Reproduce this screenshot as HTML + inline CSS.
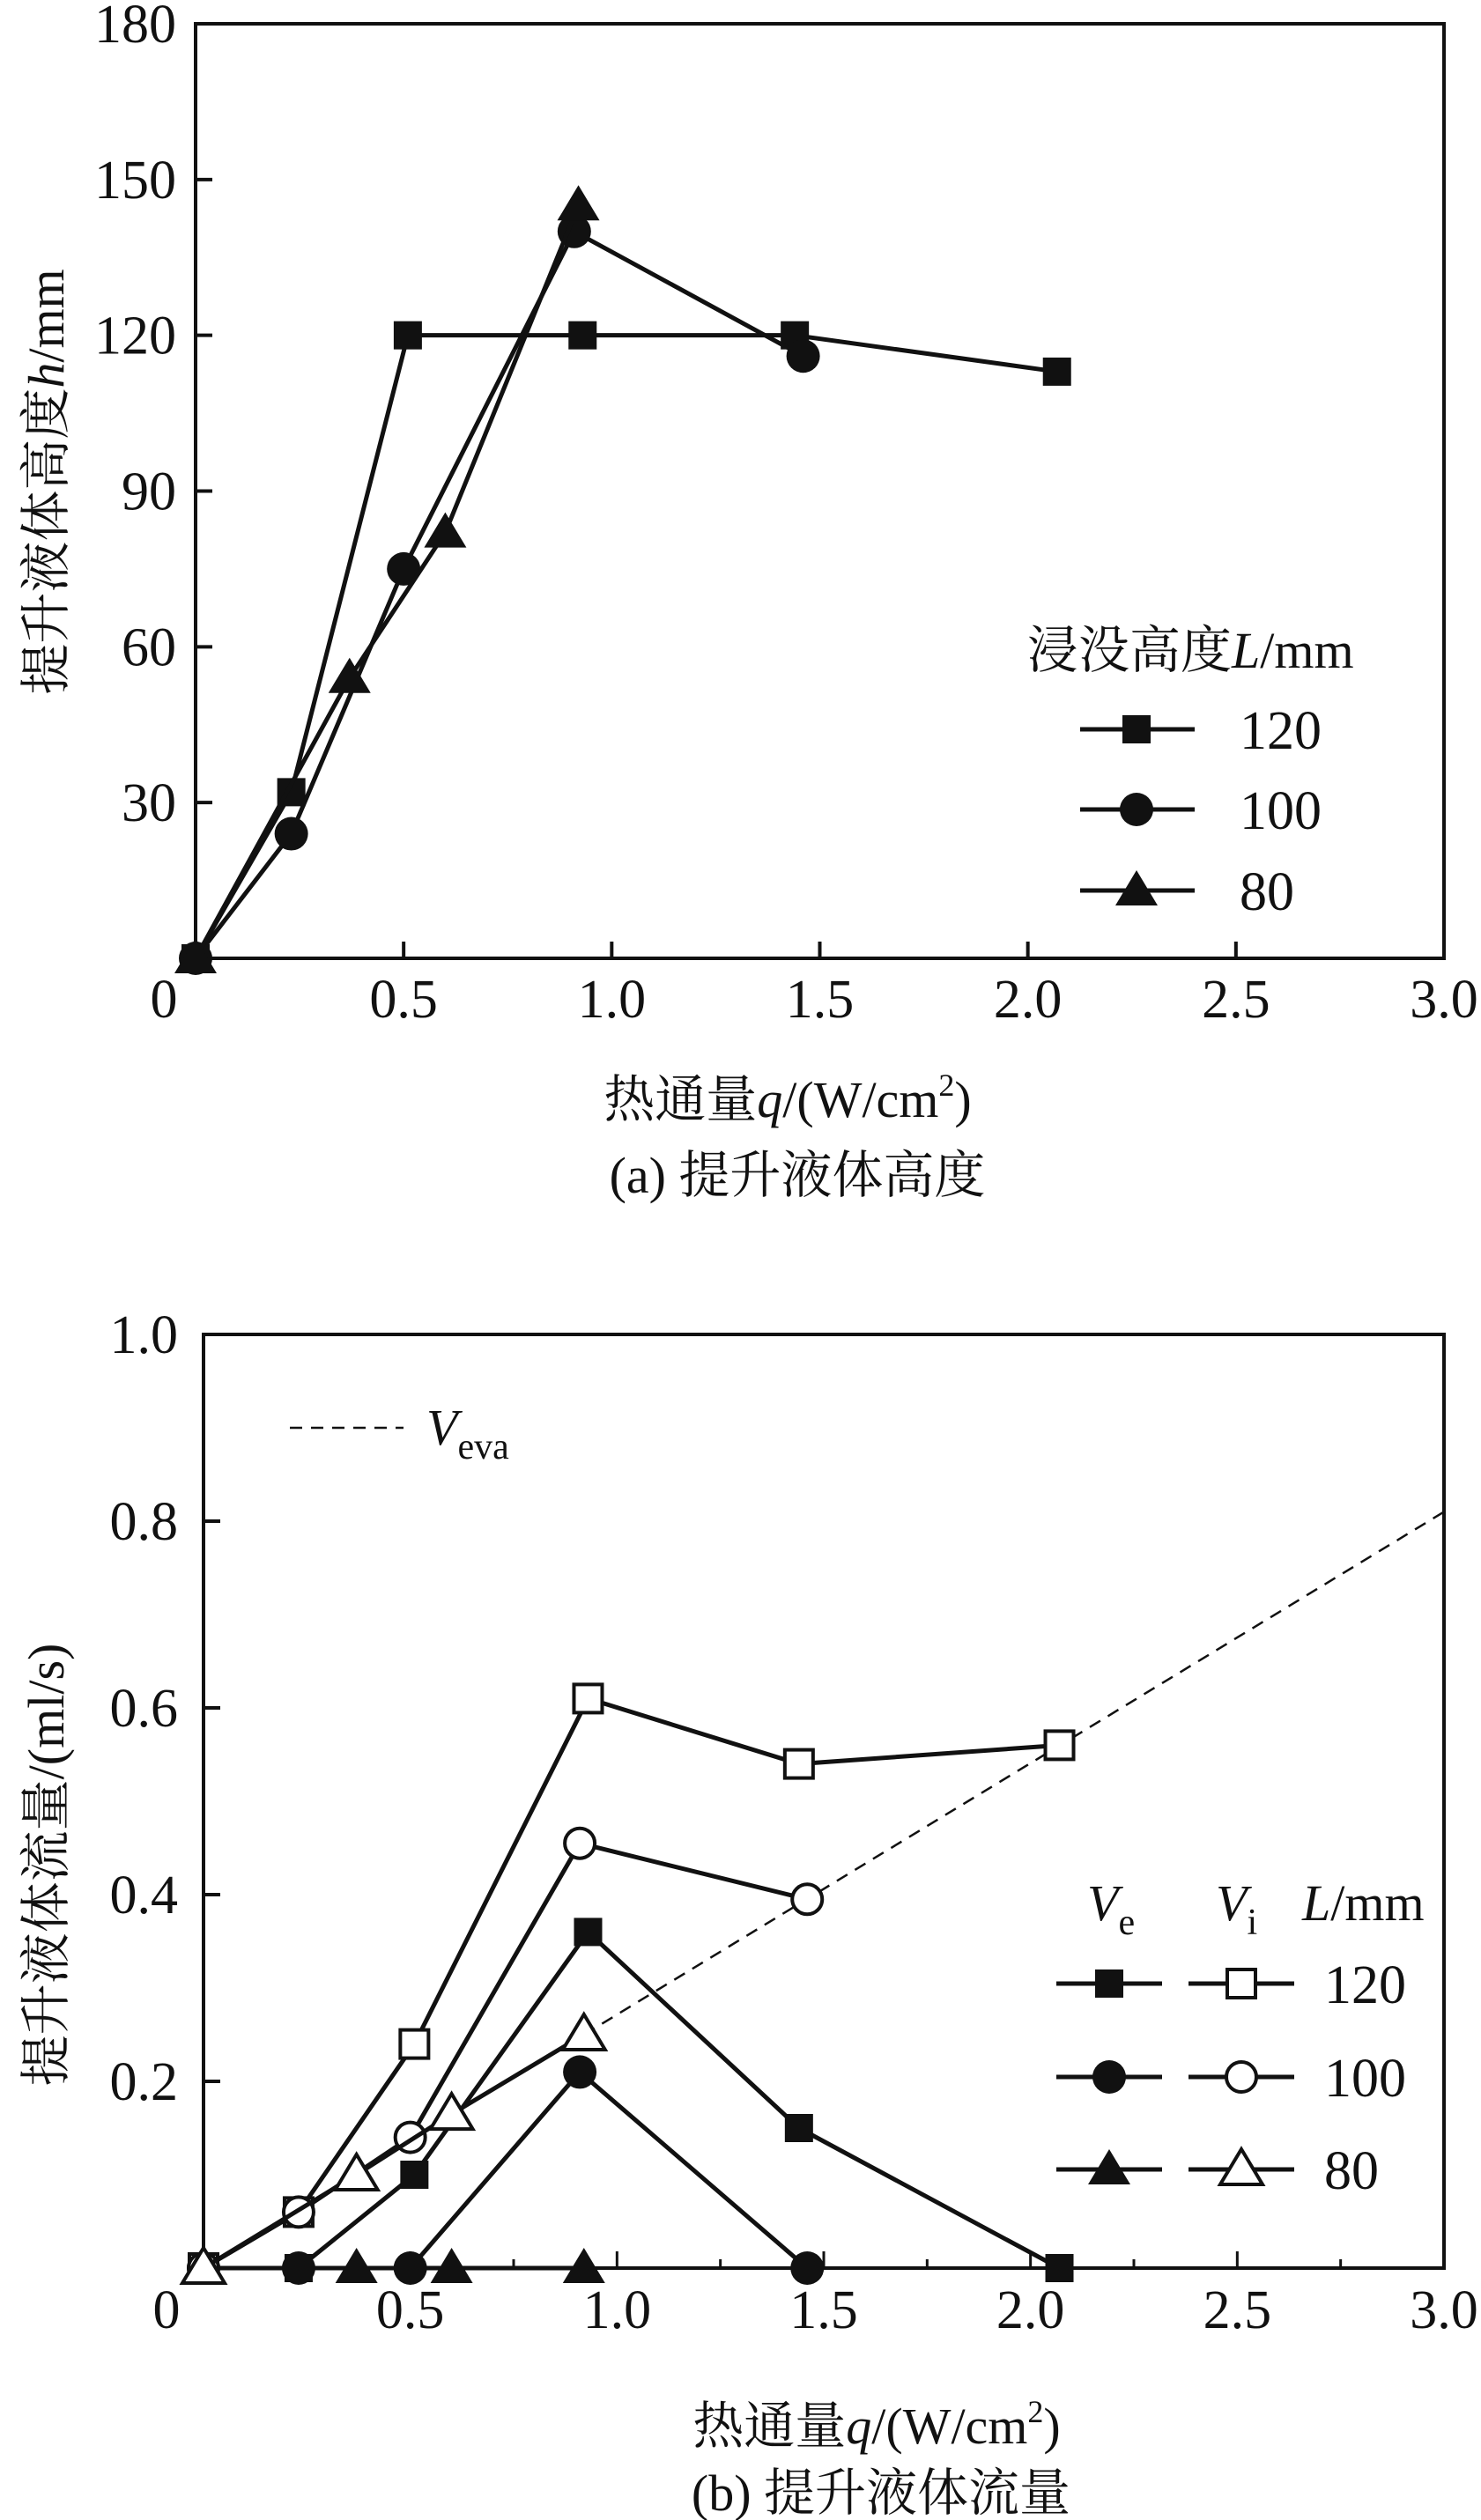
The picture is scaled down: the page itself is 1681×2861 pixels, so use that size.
<!DOCTYPE html>
<html><head><meta charset="utf-8"><style>
html,body{margin:0;padding:0;background:#fff;}
svg{display:block;}
svg text{font-family:"Liberation Serif","DejaVu Serif","Noto Serif CJK SC",serif !important;fill:#111;}
</style></head><body>
<svg id="chart" width="1681" height="2861" viewBox="0 0 1681 2861" xmlns="http://www.w3.org/2000/svg" font-family="'Liberation Serif','Noto Serif CJK SC',serif">
<g id="pa"></g>
<g id="pb"></g>
</svg>
<script>
// Chart A data
const aXTicks = [0, 0.5, 1.0, 1.5, 2.0, 2.5, 3.0];
const aXTickLabels = ["0", "0.5", "1.0", "1.5", "2.0", "2.5", "3.0"];
const aYTicks = [30, 60, 90, 120, 150, 180];
const aYTickLabels = ["30", "60", "90", "120", "150", "180"];
const a120x = [0, 0.23, 0.51, 0.93, 1.44, 2.07];
const a120y = [0, 32, 120, 120, 120, 113];
const a100x = [0, 0.23, 0.50, 0.91, 1.46];
const a100y = [0, 24, 75, 140, 116];
const a80x = [0, 0.37, 0.60, 0.92];
const a80y = [0, 54, 82, 145];
const aLegendLabels = ["120", "100", "80"];
// Chart B data
const bXTicks = [0, 0.5, 1.0, 1.5, 2.0, 2.5, 3.0];
const bXTickLabels = ["0", "0.5", "1.0", "1.5", "2.0", "2.5", "3.0"];
const bYTicks = [0.2, 0.4, 0.6, 0.8, 1.0];
const bYTickLabels = ["0.2", "0.4", "0.6", "0.8", "1.0"];
const vi120x = [0, 0.23, 0.51, 0.93, 1.44, 2.07];
const vi120y = [0, 0.06, 0.24, 0.61, 0.54, 0.56];
const vi100x = [0, 0.23, 0.50, 0.91, 1.46];
const vi100y = [0, 0.06, 0.14, 0.455, 0.395];
const vi80x = [0, 0.37, 0.60, 0.92];
const vi80y = [0, 0.10, 0.165, 0.25];
const ve120x = [0, 0.23, 0.51, 0.93, 1.44, 2.07];
const ve120y = [0, 0, 0.10, 0.36, 0.15, 0];
const ve100x = [0, 0.23, 0.50, 0.91, 1.46];
const ve100y = [0, 0, 0, 0.21, 0];
const ve80x = [0, 0.37, 0.60, 0.92];
const ve80y = [0, 0, 0, 0];
const vevaX = [0.92, 3.0];
const vevaY = [0.25, 0.81];
const bLegendLabels = ["120", "100", "80"];

const NS = "http://www.w3.org/2000/svg";
function mk(parent, tag, attrs, txt){
  const e = document.createElementNS(NS, tag);
  for (const k in attrs) e.setAttribute(k, attrs[k]);
  if (txt !== undefined) e.textContent = txt;
  parent.appendChild(e);
  return e;
}
function marker(g, type, cx, cy, filled){
  const fill = filled ? "#111" : "#fff";
  let e;
  if (type === "sq") e = mk(g, "rect", {x: cx-16, y: cy-16, width: 32, height: 32, fill: fill, stroke: "#111", "stroke-width": filled?0:4});
  else if (type === "ci") e = mk(g, "circle", {cx: cx, cy: cy, r: filled?19:17, fill: fill, stroke: "#111", "stroke-width": filled?0:4});
  else e = mk(g, "polygon", {points: `${cx},${cy-23} ${cx+24},${cy+17} ${cx-24},${cy+17}`, fill: fill, stroke: "#111", "stroke-width": filled?0:4, "stroke-linejoin":"miter"});
  return e;
}
function series(g, xs, ys, sx, sy, type, filled, name){
  const sg = mk(g, "g", {});
  
  
  const pts = xs.map((x,i)=>sx(x)+","+sy(ys[i])).join(" ");
  const pl = mk(sg, "polyline", {points: pts, fill: "none", stroke: "#111", "stroke-width": 5, "stroke-linejoin": "round"});
  
  
  xs.forEach((x,i)=>{
    const m = marker(sg, type, sx(x), sy(ys[i]), filled);
    
    
  });
}

// ---------- Chart A ----------
(function(){
  const g = document.getElementById("pa");
  const L=222, R=1639, T=27, B=1088;
  const sx = x => L + (x-0)/(3-0)*(R-L);
  const sy = y => B - (y-0)/(180-0)*(B-T);
  const fr = mk(g, "rect", {x:L, y:T, width:R-L, height:B-T, fill:"none", stroke:"#111", "stroke-width":4});
  
  
  aXTicks.forEach((v,i)=>{
    if (v>0 && v<3) mk(g, "line", {x1:sx(v), x2:sx(v), y1:B, y2:B-19, stroke:"#111", "stroke-width":4});
    const t = mk(g, "text", {x: i===0 ? sx(v)-36 : sx(v), y:1155, "font-size":62, "text-anchor":"middle"}, aXTickLabels[i]);
    
    
  });
  aYTicks.forEach((v,i)=>{
    if (v<180) mk(g, "line", {x1:L, x2:L+19, y1:sy(v), y2:sy(v), stroke:"#111", "stroke-width":4});
    const t = mk(g, "text", {x:200, y:sy(v)+21, "font-size":62, "text-anchor":"end"}, aYTickLabels[i]);
    
    
  });
  series(g, a120x, a120y, sx, sy, "sq", true, "series-a-120");
  series(g, a100x, a100y, sx, sy, "ci", true, "series-a-100");
  series(g, a80x, a80y, sx, sy, "tr", true, "series-a-80");
  const yt = mk(g, "text", {transform:"translate(72,547) rotate(-90)", "font-size":58, "text-anchor":"middle"});
  yt.innerHTML = '提升液体高度<tspan font-style="italic">h</tspan>/mm';
  
  
  const xt = mk(g, "text", {x:894, y:1268, "font-size":58, "text-anchor":"middle"});
  xt.innerHTML = '热通量<tspan font-style="italic">q</tspan>/(W/cm<tspan font-size="36" dy="-24">2</tspan><tspan dy="24">)</tspan>';
  
  
  const cap = mk(g, "text", {x:905, y:1354, "font-size":58, "text-anchor":"middle"}, "(a) 提升液体高度");
  
  
  const lg = mk(g, "g", {});
  
  
  const lt = mk(lg, "text", {x:1166, y:758, "font-size":58});
  lt.innerHTML = '浸没高度<tspan font-style="italic">L</tspan>/mm';
  
  
  const types = ["sq","ci","tr"], rows=[828,919,1011];
  aLegendLabels.forEach((lab,i)=>{
    const e = mk(lg, "g", {});
    
    
    mk(e, "line", {x1:1226, x2:1356, y1:rows[i], y2:rows[i], stroke:"#111", "stroke-width":5});
    marker(e, types[i], 1290, rows[i], true);
    mk(e, "text", {x:1407, y:rows[i]+22, "font-size":62}, lab);
  });
})();

// ---------- Chart B ----------
(function(){
  const g = document.getElementById("pb");
  const L=231, R=1639, T=1515, B=2575;
  const sx = x => L + (x-0)/(3-0)*(R-L);
  const sy = y => B - (y-0)/(1-0)*(B-T);
  const fr = mk(g, "rect", {x:L, y:T, width:R-L, height:B-T, fill:"none", stroke:"#111", "stroke-width":4});
  
  
  for (let v=0.25; v<3; v+=0.25){
    const major = Math.abs(v*2-Math.round(v*2))<1e-6;
    mk(g, "line", {x1:sx(v), x2:sx(v), y1:B, y2:B-(major?19:10), stroke:"#111", "stroke-width":3});
  }
  bXTicks.forEach((v,i)=>{
    const t = mk(g, "text", {x: i===0 ? sx(v)-42 : sx(v), y:2643, "font-size":62, "text-anchor":"middle"}, bXTickLabels[i]);
    
    
  });
  bYTicks.forEach((v,i)=>{
    if (v<1) mk(g, "line", {x1:L, x2:L+19, y1:sy(v), y2:sy(v), stroke:"#111", "stroke-width":4});
    const t = mk(g, "text", {x:202, y:sy(v)+21, "font-size":62, "text-anchor":"end"}, bYTickLabels[i]);
    
    
  });
  const dl = mk(g, "polyline", {points: vevaX.map((x,i)=>sx(x)+","+sy(vevaY[i])).join(" "), fill:"none", stroke:"#111", "stroke-width":2.5, "stroke-dasharray":"14,10"});
  
  
  series(g, ve120x, ve120y, sx, sy, "sq", true, "series-ve-120");
  series(g, ve100x, ve100y, sx, sy, "ci", true, "series-ve-100");
  series(g, ve80x, ve80y, sx, sy, "tr", true, "series-ve-80");
  series(g, vi120x, vi120y, sx, sy, "sq", false, "series-vi-120");
  series(g, vi100x, vi100y, sx, sy, "ci", false, "series-vi-100");
  series(g, vi80x, vi80y, sx, sy, "tr", false, "series-vi-80");
  const yt = mk(g, "text", {transform:"translate(72,2117) rotate(-90)", "font-size":58, "text-anchor":"middle"}, "提升液体流量/(ml/s)");
  
  
  const xt = mk(g, "text", {x:995, y:2774, "font-size":58, "text-anchor":"middle"});
  xt.innerHTML = '热通量<tspan font-style="italic">q</tspan>/(W/cm<tspan font-size="36" dy="-24">2</tspan><tspan dy="24">)</tspan>';
  
  
  const cap = mk(g, "text", {x:1000, y:2850, "font-size":58, "text-anchor":"middle"}, "(b) 提升液体流量");
  
  
  const vl = mk(g, "g", {});
  
  
  mk(vl, "line", {x1:329, x2:458, y1:1621, y2:1621, stroke:"#111", "stroke-width":2.5, "stroke-dasharray":"14,10"});
  const vt = mk(vl, "text", {x:484, y:1640, "font-size":58});
  vt.innerHTML = '<tspan font-style="italic">V</tspan><tspan font-size="42" dy="16">eva</tspan>';
  const lg = mk(g, "g", {});
  
  
  const h1 = mk(lg, "text", {x:1234, y:2180, "font-size":58});
  h1.innerHTML = '<tspan font-style="italic">V</tspan><tspan font-size="42" dy="16">e</tspan>';
  const h2 = mk(lg, "text", {x:1380, y:2180, "font-size":58});
  h2.innerHTML = '<tspan font-style="italic">V</tspan><tspan font-size="42" dy="16">i</tspan>';
  const h3 = mk(lg, "text", {x:1478, y:2180, "font-size":58});
  h3.innerHTML = '<tspan font-style="italic">L</tspan>/mm';
  const types=["sq","ci","tr"], rows=[2252,2358,2463];
  bLegendLabels.forEach((lab,i)=>{
    const e = mk(lg, "g", {});
    
    
    mk(e, "line", {x1:1199, x2:1319, y1:rows[i], y2:rows[i], stroke:"#111", "stroke-width":5});
    marker(e, types[i], 1259, rows[i], true);
    mk(e, "line", {x1:1349, x2:1469, y1:rows[i], y2:rows[i], stroke:"#111", "stroke-width":5});
    marker(e, types[i], 1409, rows[i], false);
    mk(e, "text", {x:1503, y:rows[i]+22, "font-size":62}, lab);
  });
})();
</script>
</body></html>
